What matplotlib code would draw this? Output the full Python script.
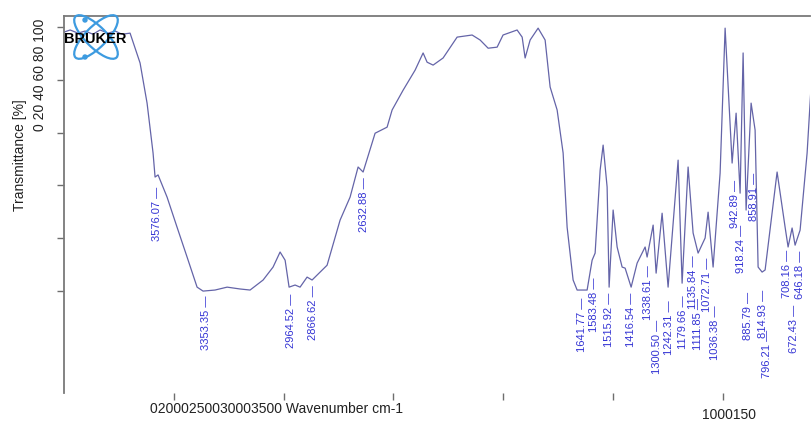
import matplotlib
matplotlib.use('Agg')
import matplotlib.pyplot as plt
from matplotlib.patches import Ellipse, Circle
from matplotlib import rcParams

rcParams['font.family'] = ['Liberation Sans', 'DejaVu Sans']

W, H = 811, 440

# spectrum: wavenumber (cm-1) and transmittance (%)
wavenumber = [4000, 3972, 3936, 3904, 3868, 3836, 3799, 3767, 3736, 3699,
              3653.5, 3621.6, 3594.3, 3585.2, 3571.5, 3530.5, 3485, 3439.4, 3393.8, 3366.5,
              3312, 3257, 3198, 3152.4, 3093, 3047.6, 3015.7, 2992.8, 2974.7, 2947.4,
              2924.6, 2892.7, 2869.9, 2801.6, 2742.3, 2696.8, 2660.3, 2637.5, 2582.9, 2528.2,
              2505.4, 2455.3, 2400.6, 2364.2, 2346, 2318.6, 2273.1, 2209.3, 2141, 2104.5,
              2068, 2027, 2000, 1936, 1913, 1899.5, 1876.7, 1840.3, 1808.4, 1785.6,
              1753.7, 1726.4, 1708.2, 1680.9, 1662.6, 1617.1, 1594.3, 1580.6, 1557.8, 1544.2,
              1526, 1516.9, 1498.6, 1480.4, 1457.6, 1444, 1416.6, 1389.3, 1352.9, 1343.8,
              1316.4, 1302.8, 1275.5, 1248.2, 1202.6, 1184.4, 1157.1, 1134.3, 1111.5, 1079.6,
              1066, 1043.2, 1011.3, 988.5, 956.6, 938.4, 920.2, 906.5, 892.9, 870.1,
              851.9, 838.2, 820, 806.3, 751.7, 715.2, 701.6, 683.4, 669.7, 646.9,
              615, 596.8]
transmittance = [98.1, 98.9, 97.7, 98.5, 97.3, 98.9, 97.7, 98.5, 97.3, 97.7,
                 86.4, 71.2, 52.3, 43.2, 44.0, 35.6, 24.2, 12.9, 1.5, 0.0,
                 0.4, 1.5, 0.8, 0.4, 4.2, 9.1, 14.8, 11.7, 1.5, 2.3,
                 1.5, 5.3, 4.2, 9.8, 26.9, 35.6, 47.0, 45.1, 59.8, 62.1,
                 68.6, 76.1, 83.7, 90.2, 86.7, 85.6, 88.3, 96.2, 97.0, 95.1,
                 92.0, 92.4, 97.0, 98.9, 96.2, 88.3, 95.1, 99.6, 95.1, 77.3,
                 68.6, 52.3, 24.2, 4.2, 0.4, 0.4, 11.7, 14.4, 45.8, 55.3,
                 39.4, 1.5, 30.7, 16.7, 9.1, 8.7, 1.5, 10.6, 16.7, 12.9,
                 25.0, 6.8, 29.5, 1.5, 49.6, 3.0, 47.0, 22.0, 14.4, 20.1,
                 29.9, 9.1, 44.7, 99.6, 48.5, 67.4, 37.1, 90.2, 30.7, 71.2,
                 61.0, 9.1, 7.2, 8.0, 45.1, 24.2, 16.7, 23.9, 17.4, 23.1,
                 52.3, 77.7]

# peak picks and the height of the top of each label
peak_wn = [3576.07, 3353.35, 2964.52, 2866.62, 2632.88, 1641.77, 1583.48, 1515.92,
           1416.54, 1338.61, 1300.50, 1242.31, 1179.66, 1135.84, 1111.85, 1072.71,
           1036.38, 942.89, 918.24, 885.79, 858.91, 814.93, 796.21, 708.16,
           672.43, 646.18]
peak_label_top = [39.4, -1.5, -0.8, 2.3, 43.2, -2.3, 5.3, -0.4,
                  -0.4, 9.8, -11.0, -3.4, -1.5, 13.5, -2.6, 12.5,
                  -5.3, 42.0, 25.0, -0.4, 45.0, 0.4, -14.8, 15.5,
                  -5.3, 15.5]

xticks = [3500, 3000, 2500, 2000, 1500, 1000]
yticks = [0, 20, 40, 60, 80, 100]


def fx(x):
    return x / W


def fy(y):
    return 1 - y / H


fig = plt.figure(figsize=(W / 100, H / 100), dpi=100)
ax = fig.add_axes([fx(64), fy(393), fx(810.4 - 64), fy(16) - fy(393)])

ax.plot(wavenumber, transmittance, color='#6464a8', linewidth=0.9)
ax.set_xlim(4000, 600)
ax.set_ylim(-38.6, 104.2)

for wn, top in zip(peak_wn, peak_label_top):
    ax.text(wn, top, f'{wn:.2f} \u2014', rotation=90, ha='center', va='top',
            fontsize=8, color='#3434d4')

ax.set_xticks(xticks)
ax.set_yticks(yticks)
ax.set_xticklabels([])
ax.set_yticklabels([])
ax.tick_params(axis='both', direction='out', length=5, width=1.0, color='#6e6e6e')
for side in ['bottom', 'right']:
    ax.spines[side].set_visible(False)
for side in ['left', 'top']:
    ax.spines[side].set_color('#7a7a7a')
    ax.spines[side].set_linewidth(1.3)

fig.text(fx(20), fy(155), 'Transmittance [%]', rotation=90, ha='center', va='center',
         fontsize=10, color='#222222')
fig.text(fx(40), fy(75), '0 20 40 60 80 100', rotation=90, ha='center', va='center',
         fontsize=10, color='#222222')
fig.text(fx(150), fy(409), '02000250030003500 Wavenumber cm-1', ha='left', va='center',
         fontsize=10, color='#222222')
fig.text(fx(702), fy(415), '1000150', ha='left', va='center', fontsize=10, color='#222222')

# Bruker logo
logo = fig.add_axes([fx(62), fy(62), fx(68), fy(12) - fy(62)])
logo.set_xlim(0, 68)
logo.set_ylim(50, 0)
logo.axis('off')
for ang in (45, -45):
    logo.add_patch(Ellipse((34, 25), 58, 21, angle=ang, fill=False,
                           edgecolor='#3d9be0', linewidth=1.6))
logo.add_patch(Circle((23, 8), 2.0, color='#3d9be0'))
logo.add_patch(Circle((23, 45), 2.0, color='#3d9be0'))
logo.text(33, 27, 'BRUKER', ha='center', va='center', fontsize=10.5,
          fontweight='bold', color='black')

fig.savefig('out.png', dpi=100)
